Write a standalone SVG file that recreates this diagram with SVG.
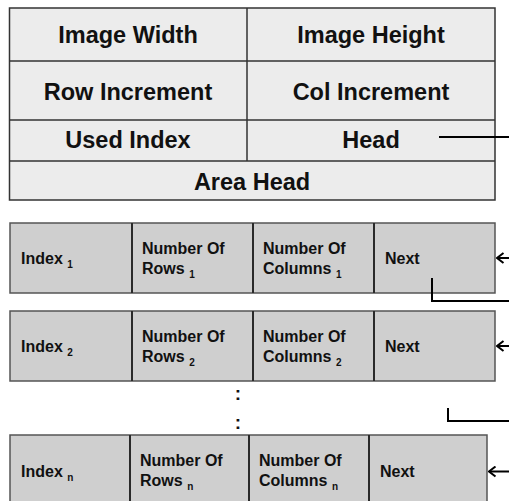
<svg xmlns="http://www.w3.org/2000/svg" width="509" height="501" viewBox="0 0 509 501">
<style>
.top{fill:#ececec;stroke:#333;stroke-width:1.5}
.sep{stroke:#333;stroke-width:1.5}
.row{fill:#cfcfcf;stroke:#555;stroke-width:1.5}
.vsep{stroke:#2a2a2a;stroke-width:2}
.tt{font-family:"Liberation Sans",Arial,sans-serif;font-weight:bold;font-size:23.5px;fill:#111;text-anchor:middle}
.ct{font-family:"Liberation Sans",Arial,sans-serif;font-weight:bold;font-size:16px;fill:#111}
.sub{font-size:10px}
.dots{font-family:"Liberation Sans",Arial,sans-serif;font-weight:bold;font-size:19px;fill:#111;text-anchor:middle}
.conn{fill:none;stroke:#000;stroke-width:2}
</style>
<defs>
<marker id="arr" viewBox="0 0 10 12" refX="9" refY="6" markerWidth="10" markerHeight="12" markerUnits="userSpaceOnUse" orient="auto">
<path d="M2.5,1 L9,6 L2.5,11" fill="none" stroke="#000" stroke-width="2"/>
</marker>
</defs>
<g id="header">
<rect class="top" x="9.5" y="8" width="485.5" height="192"/>
<line class="sep" x1="9.5" y1="61" x2="495" y2="61"/>
<line class="sep" x1="9.5" y1="120" x2="495" y2="120"/>
<line class="sep" x1="9.5" y1="161" x2="495" y2="161"/>
<line class="sep" x1="247" y1="8" x2="247" y2="161"/>
<text class="tt" x="128" y="43">Image Width</text>
<text class="tt" x="371" y="43">Image Height</text>
<text class="tt" x="128" y="100">Row Increment</text>
<text class="tt" x="371" y="100">Col Increment</text>
<text class="tt" x="128" y="148">Used Index</text>
<text class="tt" x="371" y="148">Head</text>
<text class="tt" x="252" y="190">Area Head</text>
</g>
<g id="node1">
<rect class="row" x="10" y="223" width="485" height="70"/>
<line class="vsep" x1="132" y1="223" x2="132" y2="293"/>
<line class="vsep" x1="253" y1="223" x2="253" y2="293"/>
<line class="vsep" x1="374" y1="223" x2="374" y2="293"/>
<text class="ct" x="21" y="264">Index <tspan class="sub" dy="4">1</tspan></text>
<text class="ct" x="142" y="254">Number Of</text>
<text class="ct" x="142" y="274">Rows <tspan class="sub" dy="4">1</tspan></text>
<text class="ct" x="263" y="254">Number Of</text>
<text class="ct" x="263" y="274">Columns <tspan class="sub" dy="4">1</tspan></text>
<text class="ct" x="385" y="264">Next</text>
</g>
<g id="node2">
<rect class="row" x="10" y="311" width="485" height="70"/>
<line class="vsep" x1="132" y1="311" x2="132" y2="381"/>
<line class="vsep" x1="253" y1="311" x2="253" y2="381"/>
<line class="vsep" x1="374" y1="311" x2="374" y2="381"/>
<text class="ct" x="21" y="352">Index <tspan class="sub" dy="4">2</tspan></text>
<text class="ct" x="142" y="342">Number Of</text>
<text class="ct" x="142" y="362">Rows <tspan class="sub" dy="4">2</tspan></text>
<text class="ct" x="263" y="342">Number Of</text>
<text class="ct" x="263" y="362">Columns <tspan class="sub" dy="4">2</tspan></text>
<text class="ct" x="385" y="352">Next</text>
</g>
<g id="ellipsis">
<text class="dots" x="238" y="400">:</text>
<text class="dots" x="238" y="429">:</text>
</g>
<g id="nodeN">
<rect class="row" x="10" y="435" width="477" height="73"/>
<line class="vsep" x1="130" y1="435" x2="130" y2="508"/>
<line class="vsep" x1="249" y1="435" x2="249" y2="508"/>
<line class="vsep" x1="369" y1="435" x2="369" y2="508"/>
<text class="ct" x="21" y="477">Index <tspan class="sub" dy="4">n</tspan></text>
<text class="ct" x="140" y="466">Number Of</text>
<text class="ct" x="140" y="486">Rows <tspan class="sub" dy="4">n</tspan></text>
<text class="ct" x="259" y="466">Number Of</text>
<text class="ct" x="259" y="486">Columns <tspan class="sub" dy="4">n</tspan></text>
<text class="ct" x="380" y="477">Next</text>
</g>
<g id="connectors">
<path class="conn" d="M439,137 H512"/>
<path class="conn" d="M512,258 H497" marker-end="url(#arr)"/>
<path class="conn" d="M432,278 V301 H512"/>
<path class="conn" d="M512,346 H497" marker-end="url(#arr)"/>
<path class="conn" d="M448,408 V421 H512"/>
<path class="conn" d="M512,471.5 H489" marker-end="url(#arr)"/>
</g>
</svg>
